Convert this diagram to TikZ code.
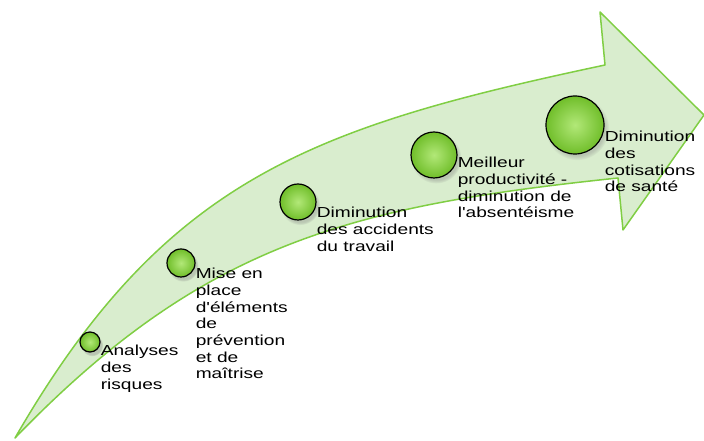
\documentclass[tikz,border=0pt]{standalone}
\usepackage{fontspec}
\newfontfamily\descfont{Liberation Sans}[FakeStretch=1.32]
\usepackage{tikz}
\usetikzlibrary{positioning, shadows, fadings}
\definecolor{arrowfill}{RGB}{217,237,206}
\definecolor{arrowline}{RGB}{128,206,68}
\definecolor{ballin}{RGB}{178,232,120}
\definecolor{ballout}{RGB}{112,190,42}
\tikzset{
    arrowshape/.style={draw=arrowline, fill=arrowfill, line width=1.5pt, line join=round},
    ball/.style={draw=black, line width=1.2pt, circle, inner sep=0pt,
        inner color=ballin, outer color=ballout,
        circular drop shadow={shadow xshift=2pt, shadow yshift=-3pt, opacity=0.35}},
    desc/.style={anchor=north west, inner sep=0pt, align=left,
        font=\descfont\fontsize{14.5}{16.7}\selectfont} }

\begin{document}
\begin{tikzpicture}[x=1pt, y=1pt]
			\useasboundingbox (0,0) rectangle (704,441);
			% ---- curved arrow
			\coordinate (tail) at (15,3);
			\coordinate (notchup) at (605,376);
			\coordinate (notchlow) at (618,263);
			\draw[arrowshape] (tail) to[out=60, in=192, looseness=1.1] (notchup)
				-- (600,429) -- (704,326) -- (623,211) -- (notchlow)
				to[out=186, in=46, looseness=1.05] (tail) -- cycle;
			% ---- steps
			\node[ball, minimum size=20pt] (b1) at (90,99) {};
			\node[ball, minimum size=28pt] (b2) at (181,178) {};
			\node[ball, minimum size=36pt] (b3) at (298,239) {};
			\node[ball, minimum size=46pt] (b4) at (434,286) {};
			\node[ball, minimum size=58pt] (b5) at (575,316) {};
			% ---- texts
			\node[desc] (t1) at ([yshift=-3pt]b1.east) {Analyses\\des\\risques};
			\node[desc] (t2) at ([yshift=-5pt]b2.east) {Mise en\\place\\d'éléments\\de\\prévention\\et de\\maîtrise};
			\node[desc] (t3) at ([yshift=-5pt]b3.east) {Diminution\\des accidents\\du travail};
			\node[desc] (t4) at ([yshift=-2pt]b4.east) {Meilleur\\productivité -\\diminution de\\l'absentéisme};
			\node[desc] (t5) at ([yshift=-6pt]b5.east) {Diminution\\des\\cotisations\\de santé};
		\end{tikzpicture}
\end{document}
